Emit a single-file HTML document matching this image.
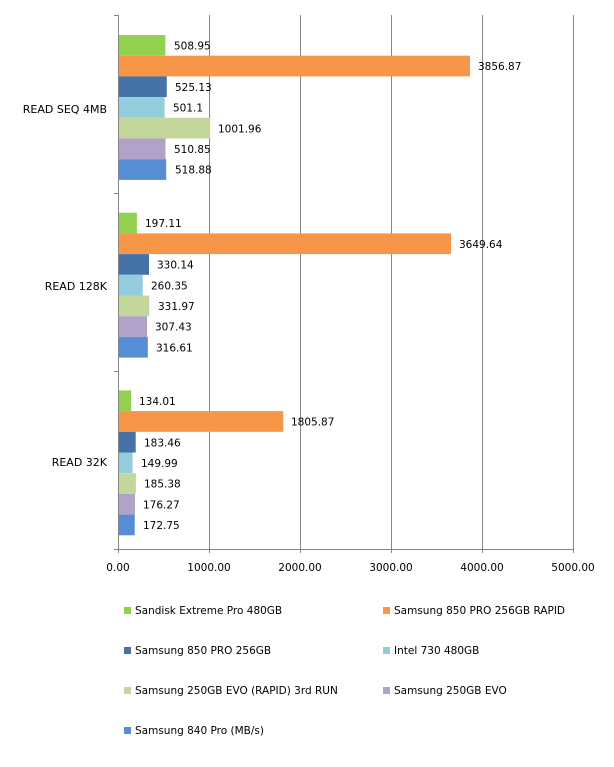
<!DOCTYPE html>
<html><head><meta charset="utf-8"><style>
html,body{margin:0;padding:0;background:#fff;}
svg text{font-family:"DejaVu Sans","Liberation Sans",sans-serif;font-size:10.5px;fill:#000;}
</style></head><body>
<svg width="614" height="762" xmlns="http://www.w3.org/2000/svg">
<g stroke="#868686" stroke-width="1">
<line x1="209.5" y1="15" x2="209.5" y2="553"/>
<line x1="300.5" y1="15" x2="300.5" y2="553"/>
<line x1="391.5" y1="15" x2="391.5" y2="553"/>
<line x1="482.5" y1="15" x2="482.5" y2="553"/>
<line x1="573.5" y1="15" x2="573.5" y2="553"/>
<line x1="118.5" y1="15" x2="118.5" y2="553"/>
<line x1="114" y1="549.5" x2="574" y2="549.5"/>
<line x1="114" y1="15.5" x2="118" y2="15.5"/>
<line x1="114" y1="193.5" x2="118" y2="193.5"/>
<line x1="114" y1="371.5" x2="118" y2="371.5"/>
</g>
<g text-anchor="middle">
<text x="118" y="571">0.00</text>
<text x="209" y="571">1000.00</text>
<text x="300" y="571">2000.00</text>
<text x="391" y="571">3000.00</text>
<text x="482" y="571">4000.00</text>
<text x="573" y="571">5000.00</text>
</g>
<g text-anchor="end" style="font-size:11px">
<text x="107" y="113" style="font-size:11px">READ SEQ 4MB</text>
<text x="107" y="290" style="font-size:11px">READ 128K</text>
<text x="107" y="466" style="font-size:11px">READ 32K</text>
</g>
<g>
<rect x="124" y="607" width="7" height="7" fill="#92d050"/><text x="135" y="614">Sandisk Extreme Pro 480GB</text>
<rect x="383" y="607" width="7" height="7" fill="#f79646"/><text x="394" y="614">Samsung 850 PRO 256GB RAPID</text>
<rect x="124" y="647" width="7" height="7" fill="#4572a7"/><text x="135" y="654">Samsung 850 PRO 256GB</text>
<rect x="383" y="647" width="7" height="7" fill="#93cddd"/><text x="394" y="654">Intel 730 480GB</text>
<rect x="124" y="687" width="7" height="7" fill="#c4d79b"/><text x="135" y="694">Samsung 250GB EVO (RAPID) 3rd RUN</text>
<rect x="383" y="687" width="7" height="7" fill="#b3a2c7"/><text x="394" y="694">Samsung 250GB EVO</text>
<rect x="124" y="727" width="7" height="7" fill="#558ed5"/><text x="135" y="734">Samsung 840 Pro (MB/s)</text>
</g>
<rect x="119" y="35" width="46.3" height="20.7" fill="#92d050"/><text x="174" y="49.5">508.95</text>
<rect x="119" y="55.7" width="351" height="20.7" fill="#f79646"/><text x="478" y="70.2">3856.87</text>
<rect x="119" y="76.4" width="47.8" height="20.7" fill="#4572a7"/><text x="175" y="90.9">525.13</text>
<rect x="119" y="97.1" width="45.6" height="20.7" fill="#93cddd"/><text x="173" y="111.6">501.1</text>
<rect x="119" y="117.8" width="91.2" height="20.7" fill="#c4d79b"/><text x="218" y="132.3">1001.96</text>
<rect x="119" y="138.5" width="46.5" height="20.7" fill="#b3a2c7"/><text x="174" y="153">510.85</text>
<rect x="119" y="159.2" width="47.2" height="20.7" fill="#558ed5"/><text x="175" y="173.7">518.88</text>
<rect x="119" y="212.7" width="17.9" height="20.7" fill="#92d050"/><text x="145" y="227.2">197.11</text>
<rect x="119" y="233.4" width="332.1" height="20.7" fill="#f79646"/><text x="459" y="247.9">3649.64</text>
<rect x="119" y="254.1" width="30" height="20.7" fill="#4572a7"/><text x="157" y="268.6">330.14</text>
<rect x="119" y="274.8" width="23.7" height="20.7" fill="#93cddd"/><text x="151" y="289.3">260.35</text>
<rect x="119" y="295.5" width="30.2" height="20.7" fill="#c4d79b"/><text x="158" y="310">331.97</text>
<rect x="119" y="316.2" width="28" height="20.7" fill="#b3a2c7"/><text x="155" y="330.7">307.43</text>
<rect x="119" y="336.9" width="28.8" height="20.7" fill="#558ed5"/><text x="156" y="351.4">316.61</text>
<rect x="119" y="390.4" width="12.2" height="20.7" fill="#92d050"/><text x="139" y="404.9">134.01</text>
<rect x="119" y="411.1" width="164.3" height="20.7" fill="#f79646"/><text x="291" y="425.6">1805.87</text>
<rect x="119" y="431.8" width="16.7" height="20.7" fill="#4572a7"/><text x="144" y="446.3">183.46</text>
<rect x="119" y="452.5" width="13.6" height="20.7" fill="#93cddd"/><text x="141" y="467">149.99</text>
<rect x="119" y="473.2" width="16.9" height="20.7" fill="#c4d79b"/><text x="144" y="487.7">185.38</text>
<rect x="119" y="493.9" width="16" height="20.7" fill="#b3a2c7"/><text x="143" y="508.4">176.27</text>
<rect x="119" y="514.6" width="15.7" height="20.7" fill="#558ed5"/><text x="143" y="529.1">172.75</text>
</svg>
</body></html>
